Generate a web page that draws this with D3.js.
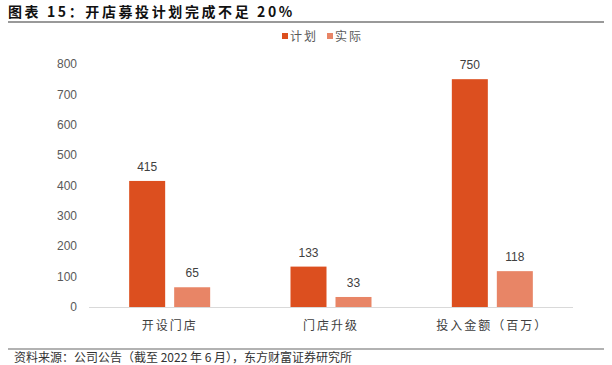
<!DOCTYPE html>
<html>
<head>
<meta charset="utf-8">
<script src="https://cdn.jsdelivr.net/npm/d3@7"></script>
<style>
  body { margin: 0; background: #fff; }
  svg { display: block; }
</style>
</head>
<body>
<svg width="612" height="365"></svg>
<script>
// data
var categories = ["开设门店", "门店升级", "投入金额（百万）"];
var seriesNames = ["计划", "实际"];
var planValues = [415, 133, 750];
var actualValues = [65, 33, 118];
var yTicks = [0, 100, 200, 300, 400, 500, 600, 700, 800];

var colors = ["#dc4f1f", "#e88566"];
var cjk = "'Noto Sans CJK SC', sans-serif";
var latin = "'Liberation Sans', Arial, sans-serif";

var svg = d3.select("svg");

// title + rules
svg.append("text")
    .attr("x", 8).attr("y", 17)
    .style("font-family", cjk)
    .style("font-weight", "bold")
    .style("font-size", "14px")
    .style("letter-spacing", "2.6px")
    .attr("fill", "#111")
    .text("图表 15：开店募投计划完成不足 20%");

svg.append("line")
    .attr("x1", 8).attr("x2", 604).attr("y1", 22).attr("y2", 22)
    .attr("stroke", "#999").attr("stroke-width", 2);

svg.append("line")
    .attr("x1", 8).attr("x2", 604).attr("y1", 349).attr("y2", 349)
    .attr("stroke", "#999").attr("stroke-width", 1.5);

svg.append("text")
    .attr("x", 14).attr("y", 362)
    .style("font-family", cjk)
    .style("font-size", "12px")
    .attr("fill", "#333")
    .text("资料来源：公司公告（截至 2022 年 6 月），东方财富证券研究所");

// scales
var x0 = d3.scaleBand().domain(categories).range([89, 573]);
var x1 = d3.scaleBand().domain(seriesNames).range([0, 81]).paddingInner(0.2);
var y = d3.scaleLinear().domain([0, 800]).range([307, 64]);

var rows = categories.map(function(c, i) {
    return { cat: c, vals: [planValues[i], actualValues[i]] };
});

// y axis labels only
svg.selectAll(".ytick")
    .data(yTicks)
    .enter().append("text")
    .attr("class", "ytick")
    .attr("x", 77)
    .attr("y", function(d) { return y(d); })
    .attr("dy", "0.35em")
    .attr("text-anchor", "end")
    .style("font-family", latin)
    .style("font-size", "12px")
    .attr("fill", "#595959")
    .text(function(d) { return d; });

// bars
var g = svg.selectAll(".grp")
    .data(rows)
    .enter().append("g")
    .attr("class", "grp")
    .attr("transform", function(d) {
        return "translate(" + (x0(d.cat) + x0.bandwidth() / 2 - 40.5) + ",0)";
    });

g.selectAll("rect")
    .data(function(d) { return d.vals.map(function(v, i) { return { s: seriesNames[i], v: v, i: i }; }); })
    .enter().append("rect")
    .attr("x", function(d) { return x1(d.s); })
    .attr("width", x1.bandwidth())
    .attr("y", function(d) { return y(d.v); })
    .attr("height", function(d) { return y(0) - y(d.v); })
    .attr("fill", function(d) { return colors[d.i]; });

g.selectAll(".val")
    .data(function(d) { return d.vals.map(function(v, i) { return { s: seriesNames[i], v: v }; }); })
    .enter().append("text")
    .attr("class", "val")
    .attr("x", function(d) { return x1(d.s) + x1.bandwidth() / 2; })
    .attr("y", function(d) { return y(d.v) - 10; })
    .attr("text-anchor", "middle")
    .style("font-family", latin)
    .style("font-size", "12px")
    .attr("fill", "#404040")
    .text(function(d) { return d.v; });

// x axis line
svg.append("line")
    .attr("x1", 89).attr("x2", 573)
    .attr("y1", y(0) + 0.5).attr("y2", y(0) + 0.5)
    .attr("stroke", "#d9d9d9");

svg.selectAll(".xlab")
    .data(categories)
    .enter().append("text")
    .attr("class", "xlab")
    .attr("x", function(d) { return x0(d) + x0.bandwidth() / 2; })
    .attr("y", 330)
    .attr("text-anchor", "middle")
    .style("font-family", cjk)
    .style("font-size", "12px")
    .style("letter-spacing", "2px")
    .attr("fill", "#404040")
    .text(function(d) { return d; });

// legend
var lg = svg.selectAll(".lg")
    .data(seriesNames)
    .enter().append("g")
    .attr("class", "lg")
    .attr("transform", function(d, i) { return "translate(" + (282 + i * 45) + ",37)"; });

lg.append("rect")
    .attr("x", 0).attr("y", -4)
    .attr("width", 6).attr("height", 6)
    .attr("fill", function(d, i) { return colors[i]; });

lg.append("text")
    .attr("x", 8).attr("y", 0)
    .attr("dy", "0.35em")
    .style("font-family", cjk)
    .style("font-size", "12px")
    .style("letter-spacing", "2px")
    .attr("fill", "#595959")
    .text(function(d) { return d; });
</script>
</body>
</html>
